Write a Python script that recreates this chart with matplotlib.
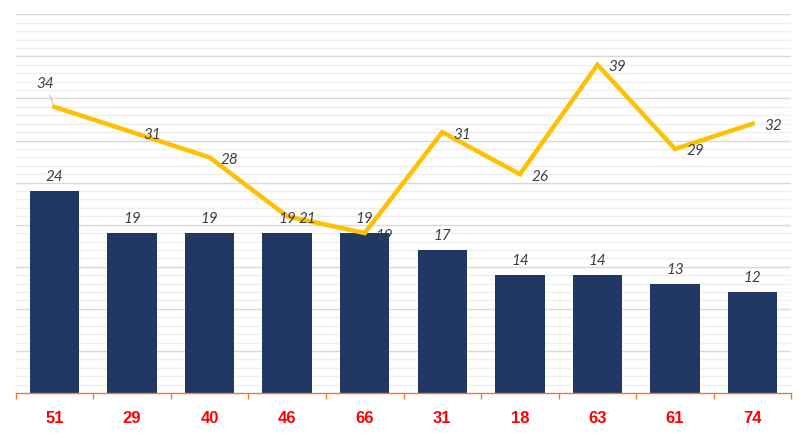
import matplotlib
matplotlib.use("Agg")
import matplotlib.pyplot as plt
import numpy as np

categories = ["51", "29", "40", "46", "66", "31", "18", "63", "61", "74"]
bar_values = [24, 19, 19, 19, 19, 17, 14, 14, 13, 12]
line_values = [34, 31, 28, 21, 19, 31, 26, 39, 29, 32]

W, H = 807, 438
fig = plt.figure(figsize=(W / 100, H / 100), dpi=100)
left, right, bottom, top = 15.5, 791.5, 393, 14.3
ax = fig.add_axes([left / W, 1 - bottom / H, (right - left) / W, (bottom - top) / H])

x = np.arange(len(categories))
ax.set_xlim(-0.5, len(categories) - 0.5)
ax.set_ylim(0, 45)

# gridlines
for v in range(1, 46):
    major = v % 5 == 0
    ax.axhline(v, color="#D9D9D9" if major else "#EFEFEF", lw=1.0, zorder=0)

bars = ax.bar(x, bar_values, width=0.637, color="#213864", zorder=2)
ax.plot(x, line_values, color="#FFC000", lw=3.2, zorder=3, solid_joinstyle="miter")

lbl_font = dict(family=["Lato", "DejaVu Sans"], style="italic", fontsize=11, color="#404040")
for xi, v in zip(x, bar_values):
    ax.annotate(str(v), (xi, v), xytext=(0, 10), textcoords="offset points",
                ha="center", va="center", zorder=4, **lbl_font)

for i, (xi, v) in enumerate(zip(x, line_values)):
    if i == 0:
        ax.annotate(str(v), (xi, v), xytext=(-6.5, 16.6), textcoords="offset points",
                    ha="center", va="center", zorder=4,
                    arrowprops=dict(arrowstyle="-", color="#BFBFBF", lw=0.8,
                                    shrinkA=1, shrinkB=1),
                    **lbl_font)
    else:
        ax.annotate(str(v), (xi, v), xytext=(14.4, -1.8), textcoords="offset points",
                    ha="center", va="center", zorder=4, **lbl_font)

for s in ["left", "right", "top"]:
    ax.spines[s].set_visible(False)
ax.spines["bottom"].set_color("#ED7D31")
ax.spines["bottom"].set_linewidth(1.0)
ax.spines["bottom"].set_zorder(5)

ax.set_yticks([])
ax.set_xticks(x)
ax.set_xticklabels(categories)
ax.set_xticks(np.arange(-0.5, len(categories)), minor=True)
ax.tick_params(axis="x", which="major", length=0, pad=13)
ax.tick_params(axis="x", which="minor", length=4.5, width=1.0, color="#ED7D31", direction="out")
for t in ax.get_xticklabels():
    t.set_family(["Liberation Sans", "DejaVu Sans"])
    t.set_fontweight("bold")
    t.set_fontsize(12)
    t.set_color("#FF0000")

fig.savefig("out.png", dpi=100, facecolor="white")
